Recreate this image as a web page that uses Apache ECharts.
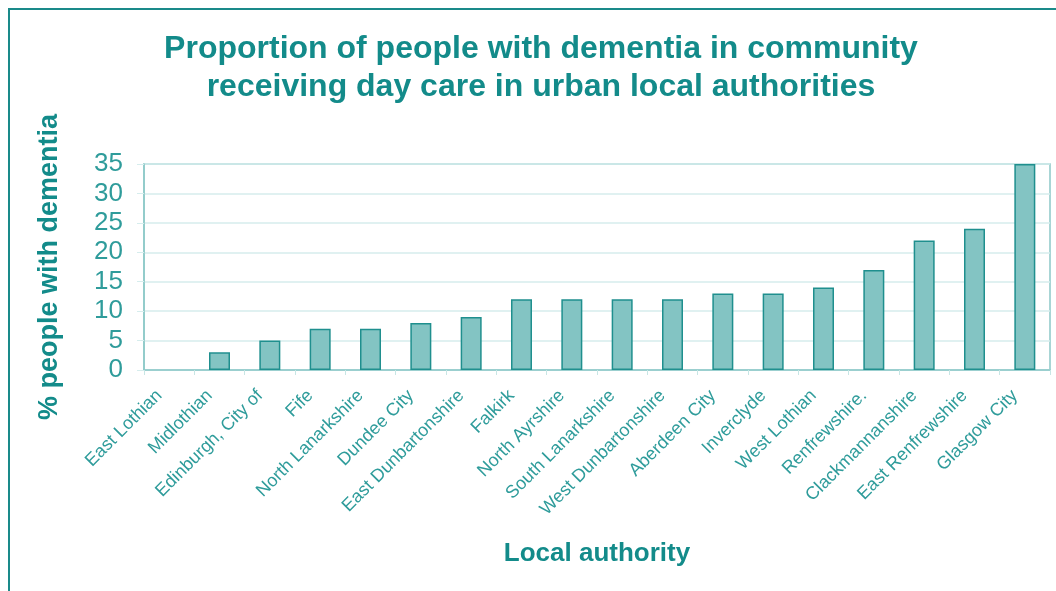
<!DOCTYPE html>
<html><head><meta charset="utf-8">
<script src="https://cdn.jsdelivr.net/npm/echarts@6/dist/echarts.min.js"></script>
<style>html,body{margin:0;padding:0;background:#fff}#c{width:1056px;height:591px}</style>
</head><body><div id="c"></div>
<script>
const titleLines = ['Proportion of people with dementia in community', 'receiving day care in urban local authorities'];
const categories = ['East Lothian','Midlothian','Edinburgh, City of','Fife','North Lanarkshire','Dundee City','East Dunbartonshire','Falkirk','North Ayrshire','South Lanarkshire','West Dunbartonshire','Aberdeen City','Inverclyde','West Lothian','Renfrewshire.','Clackmannanshire','East Renfrewshire','Glasgow City'];
const values = [0,3,5,7,7,8,9,12,12,12,12,13,13,14,17,22,24,35];
const yAxisName = '% people with dementia';
const xAxisName = 'Local authority';

const teal = '#138b8a';
const chart = echarts.init(document.getElementById('c'), null, {renderer:'canvas'});
chart.setOption({
  animation:false,
  backgroundColor:'#fff',
  textStyle:{fontFamily:'Liberation Sans, Arial, sans-serif'},
  graphic:[{type:'rect', shape:{x:9,y:9,width:1100,height:700}, style:{fill:'none',stroke:'#1a8a8a',lineWidth:2}}],
  title:{text:titleLines.join('\n'), left:536, top:25, textAlign:'center',
    textStyle:{color:teal,fontSize:32,fontWeight:'bold',lineHeight:38,fontFamily:'Liberation Sans, Arial, sans-serif'}},
  grid:{left:144, top:164, right:6, bottom:221, show:true, borderColor:'#8cc8c7', borderWidth:1.5},
  xAxis:{type:'category', data:categories,
    name:xAxisName, nameLocation:'middle', nameGap:171,
    nameTextStyle:{color:teal,fontSize:26,fontWeight:'bold'},
    axisLine:{lineStyle:{color:'#8cc8c7',width:1.5}},
    axisTick:{show:true,length:5,lineStyle:{color:'#c8e6e5'}},
    axisLabel:{rotate:45, interval:0, margin:13, color:'#2f9c9b', fontSize:18, padding:[0,14,0,0]}},
  yAxis:{type:'value', min:0, max:35, interval:5,
    name:yAxisName, nameLocation:'middle', nameGap:81, nameRotate:90,
    nameTextStyle:{color:teal,fontSize:27,fontWeight:'bold'},
    axisLine:{show:true,lineStyle:{color:'#8cc8c7',width:1.5}},
    axisTick:{show:true,length:7,lineStyle:{color:'#d6eded'}},
    axisLabel:{color:'#2f9c9b',fontSize:26,margin:21},
    splitLine:{lineStyle:{color:'#d6eded',width:1.5}}},
  series:[{type:'bar', barWidth:21,
    data: values.map(v => v === 0 ? {value:v, itemStyle:{borderWidth:0}} : v),
    itemStyle:{color:'#83c4c3', borderColor:'#1f8f8e', borderWidth:1.5}}]
});
</script></body></html>
